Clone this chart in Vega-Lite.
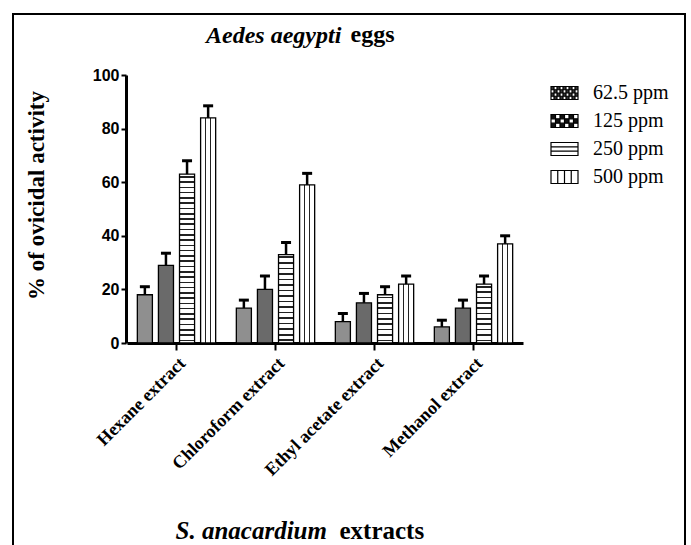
{
"$schema": "https://vega.github.io/schema/vega-lite/v6.json",
"width": 672,
"height": 534,
"autosize": {"type": "none"},
"padding": {"left": 13, "top": 14, "right": 6, "bottom": -3},
"background": "white",
"title": {"text": "Aedes aegypti", "anchor": "start", "frame": "group", "orient": "top", "offset": 0, "dx": 193, "dy": 53, "baseline": "alphabetic", "font": "Liberation Serif", "fontSize": 24, "fontStyle": "italic", "fontWeight": "bold", "color": "black"},
"data": {"values": [
{"extract":"Hexane extract","conc":"62.5 ppm","mean":18,"upper":21},
{"extract":"Hexane extract","conc":"125 ppm","mean":29,"upper":33.5},
{"extract":"Hexane extract","conc":"250 ppm","mean":63,"upper":68},
{"extract":"Hexane extract","conc":"500 ppm","mean":84,"upper":88.5},
{"extract":"Chloroform extract","conc":"62.5 ppm","mean":13,"upper":16},
{"extract":"Chloroform extract","conc":"125 ppm","mean":20,"upper":25},
{"extract":"Chloroform extract","conc":"250 ppm","mean":33,"upper":37.5},
{"extract":"Chloroform extract","conc":"500 ppm","mean":59,"upper":63.3},
{"extract":"Ethyl acetate extract","conc":"62.5 ppm","mean":8,"upper":11},
{"extract":"Ethyl acetate extract","conc":"125 ppm","mean":15,"upper":18.5},
{"extract":"Ethyl acetate extract","conc":"250 ppm","mean":18,"upper":21},
{"extract":"Ethyl acetate extract","conc":"500 ppm","mean":22,"upper":25},
{"extract":"Methanol extract","conc":"62.5 ppm","mean":6,"upper":8.5},
{"extract":"Methanol extract","conc":"125 ppm","mean":13,"upper":16},
{"extract":"Methanol extract","conc":"250 ppm","mean":22,"upper":25},
{"extract":"Methanol extract","conc":"500 ppm","mean":37,"upper":40}
]},
"resolve": {"axis": {"x": "independent", "y": "independent"}, "legend": {"fill": "independent", "shape": "independent", "stroke": "independent"}},
"layer": [
{
"mark": {"type": "bar", "stroke": "black", "strokeWidth": 1.3},
"encoding": {
"x": {"field": "extract", "type": "nominal", "sort": null,
 "scale": {"range": [114, 510], "paddingInner": 0, "paddingOuter": 0},
 "axis": {"orient": "bottom", "offset": -205, "title": "S. anacardium", "titleFont": "Liberation Serif", "titleFontSize": 25, "titleFontStyle": "italic", "titleFontWeight": "bold", "titleColor": "black", "titleX": 162, "titleY": 195, "titleAlign": "left", "titleBaseline": "alphabetic", "titleAngle": 0,
  "labelAngle": -45, "labelFont": "Liberation Serif", "labelFontSize": 18, "labelFontWeight": "bold", "labelColor": "black", "labelPadding": 4, "labelLimit": 300,
  "tickSize": 7, "tickWidth": 2, "tickColor": "black", "domainColor": "black", "domainWidth": 3, "grid": false}},
"xOffset": {"field": "conc", "type": "nominal", "sort": null, "scale": {"paddingInner": 0.286, "paddingOuter": 0.49}},
"y": {"field": "mean", "type": "quantitative",
 "scale": {"domain": [0, 100], "range": [329, 61], "nice": false},
 "axis": {"orient": "left", "offset": -113, "values": [0, 20, 40, 60, 80, 100], "title": "% of ovicidal activity", "titleFont": "Liberation Serif", "titleFontSize": 23, "titleFontWeight": "bold", "titleColor": "black", "titleX": -83, "titleY": 181, "titleAngle": -90, "titleAlign": "center", "titleBaseline": "alphabetic",
  "labelFont": "Liberation Sans", "labelFontWeight": "bold", "labelFontSize": 16, "labelColor": "black", "labelPadding": 2,
  "tickSize": 5, "tickWidth": 2, "tickColor": "black", "domainColor": "black", "domainWidth": 3, "grid": false}},
"fill": {"field": "conc", "type": "nominal", "sort": null,
 "scale": {"domain": ["62.5 ppm", "125 ppm", "250 ppm", "500 ppm"], "range": ["#333333", "#111111", "#ffffff", "#ffffff"]},
 "legend": null,
 "condition": [
  {"test": "datum.conc === '62.5 ppm'", "value": "#8f8f8f"},
  {"test": "datum.conc === '125 ppm'", "value": "#6a6a6a"},
  {"test": "datum.conc === '500 ppm'", "value": {"gradient": "linear", "x1": 0, "y1": 0, "x2": 1, "y2": 0, "stops": [{"offset":0,"color":"#fff"},{"offset":0.29,"color":"#fff"},{"offset":0.29,"color":"#222"},{"offset":0.38,"color":"#222"},{"offset":0.38,"color":"#fff"},{"offset":0.62,"color":"#fff"},{"offset":0.62,"color":"#222"},{"offset":0.71,"color":"#222"},{"offset":0.71,"color":"#fff"},{"offset":1,"color":"#fff"}]}},
  {"test": "datum.conc === '250 ppm' && datum.extract === 'Hexane extract'", "value": {"gradient": "linear", "x1": 0, "y1": 0, "x2": 0, "y2": 1, "stops": [
   {"offset":0,"color":"#fff"},
   {"offset":0.01094,"color":"#fff"},{"offset":0.01094,"color":"#222"},{"offset":0.02031,"color":"#222"},{"offset":0.02031,"color":"#fff"},
   {"offset":0.04219,"color":"#fff"},{"offset":0.04219,"color":"#222"},{"offset":0.05156,"color":"#222"},{"offset":0.05156,"color":"#fff"},
   {"offset":0.07344,"color":"#fff"},{"offset":0.07344,"color":"#222"},{"offset":0.08281,"color":"#222"},{"offset":0.08281,"color":"#fff"},
   {"offset":0.10469,"color":"#fff"},{"offset":0.10469,"color":"#222"},{"offset":0.11406,"color":"#222"},{"offset":0.11406,"color":"#fff"},
   {"offset":0.13594,"color":"#fff"},{"offset":0.13594,"color":"#222"},{"offset":0.14531,"color":"#222"},{"offset":0.14531,"color":"#fff"},
   {"offset":0.16719,"color":"#fff"},{"offset":0.16719,"color":"#222"},{"offset":0.17656,"color":"#222"},{"offset":0.17656,"color":"#fff"},
   {"offset":0.19844,"color":"#fff"},{"offset":0.19844,"color":"#222"},{"offset":0.20781,"color":"#222"},{"offset":0.20781,"color":"#fff"},
   {"offset":0.22969,"color":"#fff"},{"offset":0.22969,"color":"#222"},{"offset":0.23906,"color":"#222"},{"offset":0.23906,"color":"#fff"},
   {"offset":0.26094,"color":"#fff"},{"offset":0.26094,"color":"#222"},{"offset":0.27031,"color":"#222"},{"offset":0.27031,"color":"#fff"},
   {"offset":0.29219,"color":"#fff"},{"offset":0.29219,"color":"#222"},{"offset":0.30156,"color":"#222"},{"offset":0.30156,"color":"#fff"},
   {"offset":0.32344,"color":"#fff"},{"offset":0.32344,"color":"#222"},{"offset":0.33281,"color":"#222"},{"offset":0.33281,"color":"#fff"},
   {"offset":0.35469,"color":"#fff"},{"offset":0.35469,"color":"#222"},{"offset":0.36406,"color":"#222"},{"offset":0.36406,"color":"#fff"},
   {"offset":0.38594,"color":"#fff"},{"offset":0.38594,"color":"#222"},{"offset":0.39531,"color":"#222"},{"offset":0.39531,"color":"#fff"},
   {"offset":0.41719,"color":"#fff"},{"offset":0.41719,"color":"#222"},{"offset":0.42656,"color":"#222"},{"offset":0.42656,"color":"#fff"},
   {"offset":0.44844,"color":"#fff"},{"offset":0.44844,"color":"#222"},{"offset":0.45781,"color":"#222"},{"offset":0.45781,"color":"#fff"},
   {"offset":0.47969,"color":"#fff"},{"offset":0.47969,"color":"#222"},{"offset":0.48906,"color":"#222"},{"offset":0.48906,"color":"#fff"},
   {"offset":0.51094,"color":"#fff"},{"offset":0.51094,"color":"#222"},{"offset":0.52031,"color":"#222"},{"offset":0.52031,"color":"#fff"},
   {"offset":0.54219,"color":"#fff"},{"offset":0.54219,"color":"#222"},{"offset":0.55156,"color":"#222"},{"offset":0.55156,"color":"#fff"},
   {"offset":0.57344,"color":"#fff"},{"offset":0.57344,"color":"#222"},{"offset":0.58281,"color":"#222"},{"offset":0.58281,"color":"#fff"},
   {"offset":0.60469,"color":"#fff"},{"offset":0.60469,"color":"#222"},{"offset":0.61406,"color":"#222"},{"offset":0.61406,"color":"#fff"},
   {"offset":0.63594,"color":"#fff"},{"offset":0.63594,"color":"#222"},{"offset":0.64531,"color":"#222"},{"offset":0.64531,"color":"#fff"},
   {"offset":0.66719,"color":"#fff"},{"offset":0.66719,"color":"#222"},{"offset":0.67656,"color":"#222"},{"offset":0.67656,"color":"#fff"},
   {"offset":0.69844,"color":"#fff"},{"offset":0.69844,"color":"#222"},{"offset":0.70781,"color":"#222"},{"offset":0.70781,"color":"#fff"},
   {"offset":0.72969,"color":"#fff"},{"offset":0.72969,"color":"#222"},{"offset":0.73906,"color":"#222"},{"offset":0.73906,"color":"#fff"},
   {"offset":0.76094,"color":"#fff"},{"offset":0.76094,"color":"#222"},{"offset":0.77031,"color":"#222"},{"offset":0.77031,"color":"#fff"},
   {"offset":0.79219,"color":"#fff"},{"offset":0.79219,"color":"#222"},{"offset":0.80156,"color":"#222"},{"offset":0.80156,"color":"#fff"},
   {"offset":0.82344,"color":"#fff"},{"offset":0.82344,"color":"#222"},{"offset":0.83281,"color":"#222"},{"offset":0.83281,"color":"#fff"},
   {"offset":0.85469,"color":"#fff"},{"offset":0.85469,"color":"#222"},{"offset":0.86406,"color":"#222"},{"offset":0.86406,"color":"#fff"},
   {"offset":0.88594,"color":"#fff"},{"offset":0.88594,"color":"#222"},{"offset":0.89531,"color":"#222"},{"offset":0.89531,"color":"#fff"},
   {"offset":0.91719,"color":"#fff"},{"offset":0.91719,"color":"#222"},{"offset":0.92656,"color":"#222"},{"offset":0.92656,"color":"#fff"},
   {"offset":0.94844,"color":"#fff"},{"offset":0.94844,"color":"#222"},{"offset":0.95781,"color":"#222"},{"offset":0.95781,"color":"#fff"},
   {"offset":0.97969,"color":"#fff"},{"offset":0.97969,"color":"#222"},{"offset":0.98906,"color":"#222"},{"offset":0.98906,"color":"#fff"},
   {"offset":1,"color":"#fff"}]}},
  {"test": "datum.conc === '250 ppm' && datum.extract === 'Chloroform extract'", "value": {"gradient": "linear", "x1": 0, "y1": 0, "x2": 0, "y2": 1, "stops": [
   {"offset":0,"color":"#fff"},
   {"offset":0.02188,"color":"#fff"},{"offset":0.02188,"color":"#222"},{"offset":0.04063,"color":"#222"},{"offset":0.04063,"color":"#fff"},
   {"offset":0.08438,"color":"#fff"},{"offset":0.08438,"color":"#222"},{"offset":0.10313,"color":"#222"},{"offset":0.10313,"color":"#fff"},
   {"offset":0.14688,"color":"#fff"},{"offset":0.14688,"color":"#222"},{"offset":0.16563,"color":"#222"},{"offset":0.16563,"color":"#fff"},
   {"offset":0.20938,"color":"#fff"},{"offset":0.20938,"color":"#222"},{"offset":0.22813,"color":"#222"},{"offset":0.22813,"color":"#fff"},
   {"offset":0.27188,"color":"#fff"},{"offset":0.27188,"color":"#222"},{"offset":0.29063,"color":"#222"},{"offset":0.29063,"color":"#fff"},
   {"offset":0.33438,"color":"#fff"},{"offset":0.33438,"color":"#222"},{"offset":0.35313,"color":"#222"},{"offset":0.35313,"color":"#fff"},
   {"offset":0.39688,"color":"#fff"},{"offset":0.39688,"color":"#222"},{"offset":0.41563,"color":"#222"},{"offset":0.41563,"color":"#fff"},
   {"offset":0.45938,"color":"#fff"},{"offset":0.45938,"color":"#222"},{"offset":0.47813,"color":"#222"},{"offset":0.47813,"color":"#fff"},
   {"offset":0.52188,"color":"#fff"},{"offset":0.52188,"color":"#222"},{"offset":0.54063,"color":"#222"},{"offset":0.54063,"color":"#fff"},
   {"offset":0.58438,"color":"#fff"},{"offset":0.58438,"color":"#222"},{"offset":0.60313,"color":"#222"},{"offset":0.60313,"color":"#fff"},
   {"offset":0.64688,"color":"#fff"},{"offset":0.64688,"color":"#222"},{"offset":0.66563,"color":"#222"},{"offset":0.66563,"color":"#fff"},
   {"offset":0.70938,"color":"#fff"},{"offset":0.70938,"color":"#222"},{"offset":0.72813,"color":"#222"},{"offset":0.72813,"color":"#fff"},
   {"offset":0.77188,"color":"#fff"},{"offset":0.77188,"color":"#222"},{"offset":0.79063,"color":"#222"},{"offset":0.79063,"color":"#fff"},
   {"offset":0.83438,"color":"#fff"},{"offset":0.83438,"color":"#222"},{"offset":0.85313,"color":"#222"},{"offset":0.85313,"color":"#fff"},
   {"offset":0.89688,"color":"#fff"},{"offset":0.89688,"color":"#222"},{"offset":0.91563,"color":"#222"},{"offset":0.91563,"color":"#fff"},
   {"offset":0.95938,"color":"#fff"},{"offset":0.95938,"color":"#222"},{"offset":0.97813,"color":"#222"},{"offset":0.97813,"color":"#fff"},
   {"offset":1,"color":"#fff"}]}},
  {"test": "datum.conc === '250 ppm' && datum.extract === 'Ethyl acetate extract'", "value": {"gradient": "linear", "x1": 0, "y1": 0, "x2": 0, "y2": 1, "stops": [
   {"offset":0,"color":"#fff"},
   {"offset":0.03889,"color":"#fff"},{"offset":0.03889,"color":"#222"},{"offset":0.07222,"color":"#222"},{"offset":0.07222,"color":"#fff"},
   {"offset":0.15,"color":"#fff"},{"offset":0.15,"color":"#222"},{"offset":0.18333,"color":"#222"},{"offset":0.18333,"color":"#fff"},
   {"offset":0.26111,"color":"#fff"},{"offset":0.26111,"color":"#222"},{"offset":0.29444,"color":"#222"},{"offset":0.29444,"color":"#fff"},
   {"offset":0.37222,"color":"#fff"},{"offset":0.37222,"color":"#222"},{"offset":0.40556,"color":"#222"},{"offset":0.40556,"color":"#fff"},
   {"offset":0.48333,"color":"#fff"},{"offset":0.48333,"color":"#222"},{"offset":0.51667,"color":"#222"},{"offset":0.51667,"color":"#fff"},
   {"offset":0.59444,"color":"#fff"},{"offset":0.59444,"color":"#222"},{"offset":0.62778,"color":"#222"},{"offset":0.62778,"color":"#fff"},
   {"offset":0.70556,"color":"#fff"},{"offset":0.70556,"color":"#222"},{"offset":0.73889,"color":"#222"},{"offset":0.73889,"color":"#fff"},
   {"offset":0.81667,"color":"#fff"},{"offset":0.81667,"color":"#222"},{"offset":0.85,"color":"#222"},{"offset":0.85,"color":"#fff"},
   {"offset":0.92778,"color":"#fff"},{"offset":0.92778,"color":"#222"},{"offset":0.96111,"color":"#222"},{"offset":0.96111,"color":"#fff"},
   {"offset":1,"color":"#fff"}]}},
  {"test": "datum.conc === '250 ppm' && datum.extract === 'Methanol extract'", "value": {"gradient": "linear", "x1": 0, "y1": 0, "x2": 0, "y2": 1, "stops": [
   {"offset":0,"color":"#fff"},
   {"offset":0.03182,"color":"#fff"},{"offset":0.03182,"color":"#222"},{"offset":0.05909,"color":"#222"},{"offset":0.05909,"color":"#fff"},
   {"offset":0.12273,"color":"#fff"},{"offset":0.12273,"color":"#222"},{"offset":0.15,"color":"#222"},{"offset":0.15,"color":"#fff"},
   {"offset":0.21364,"color":"#fff"},{"offset":0.21364,"color":"#222"},{"offset":0.24091,"color":"#222"},{"offset":0.24091,"color":"#fff"},
   {"offset":0.30455,"color":"#fff"},{"offset":0.30455,"color":"#222"},{"offset":0.33182,"color":"#222"},{"offset":0.33182,"color":"#fff"},
   {"offset":0.39545,"color":"#fff"},{"offset":0.39545,"color":"#222"},{"offset":0.42273,"color":"#222"},{"offset":0.42273,"color":"#fff"},
   {"offset":0.48636,"color":"#fff"},{"offset":0.48636,"color":"#222"},{"offset":0.51364,"color":"#222"},{"offset":0.51364,"color":"#fff"},
   {"offset":0.57727,"color":"#fff"},{"offset":0.57727,"color":"#222"},{"offset":0.60455,"color":"#222"},{"offset":0.60455,"color":"#fff"},
   {"offset":0.66818,"color":"#fff"},{"offset":0.66818,"color":"#222"},{"offset":0.69545,"color":"#222"},{"offset":0.69545,"color":"#fff"},
   {"offset":0.75909,"color":"#fff"},{"offset":0.75909,"color":"#222"},{"offset":0.78636,"color":"#222"},{"offset":0.78636,"color":"#fff"},
   {"offset":0.85,"color":"#fff"},{"offset":0.85,"color":"#222"},{"offset":0.87727,"color":"#222"},{"offset":0.87727,"color":"#fff"},
   {"offset":0.94091,"color":"#fff"},{"offset":0.94091,"color":"#222"},{"offset":0.96818,"color":"#222"},{"offset":0.96818,"color":"#fff"},
   {"offset":1,"color":"#fff"}]}}
 ]}
}
},
{
"mark": {"type": "point", "filled": true, "size": 0, "strokeWidth": 1.2},
"encoding": {
"x": {"field": "extract", "type": "nominal", "sort": null, "axis": null},
"xOffset": {"field": "conc", "type": "nominal", "sort": null},
"y": {"field": "mean", "type": "quantitative", "axis": null},
"fill": {"field": "conc", "type": "nominal", "sort": null,
 "legend": {"orient": "none", "legendX": 537, "legendY": 64.5, "title": null, "padding": 0, "symbolSize": 729, "symbolStrokeWidth": 1.2, "symbolOpacity": 1, "labelFont": "Liberation Serif", "labelFontSize": 20, "labelColor": "black", "labelOffset": 14, "rowPadding": 3, "labelLimit": 200}},
"stroke": {"field": "conc", "type": "nominal", "sort": null,
 "scale": {"domain": ["62.5 ppm", "125 ppm", "250 ppm", "500 ppm"], "range": ["#000000", "#000000", "#000000", "#000000"]},
 "legend": {"orient": "none", "legendX": 537, "legendY": 64.5, "title": null, "padding": 0, "symbolSize": 729, "symbolStrokeWidth": 1.2, "symbolOpacity": 1, "labelFont": "Liberation Serif", "labelFontSize": 20, "labelColor": "black", "labelOffset": 14, "rowPadding": 3, "labelLimit": 200}},
"shape": {"field": "conc", "type": "nominal", "sort": null,
 "scale": {"domain": ["62.5 ppm", "125 ppm", "250 ppm", "500 ppm"], "range": [
  "M-1,-0.48H1V0.48H-1Z M-0.778,-0.48V-0.24H-0.556V-0.48Z M-0.333,-0.48V-0.24H-0.111V-0.48Z M0.111,-0.48V-0.24H0.333V-0.48Z M0.556,-0.48V-0.24H0.778V-0.48Z M-1,-0.24V0H-0.778V-0.24Z M-0.556,-0.24V0H-0.333V-0.24Z M-0.111,-0.24V0H0.111V-0.24Z M0.333,-0.24V0H0.556V-0.24Z M0.778,-0.24V0H1V-0.24Z M-0.778,0V0.24H-0.556V0Z M-0.333,0V0.24H-0.111V0Z M0.111,0V0.24H0.333V0Z M0.556,0V0.24H0.778V0Z M-1,0.24V0.48H-0.778V0.24Z M-0.556,0.24V0.48H-0.333V0.24Z M-0.111,0.24V0.48H0.111V0.24Z M0.333,0.24V0.48H0.556V0.24Z M0.778,0.24V0.48H1V0.24Z",
  "M-1,-0.48H1V0.48H-1Z M-0.667,-0.48V-0.16H-0.333V-0.48Z M0,-0.48V-0.16H0.333V-0.48Z M0.667,-0.48V-0.16H1V-0.48Z M-1,-0.16V0.16H-0.667V-0.16Z M-0.333,-0.16V0.16H0V-0.16Z M0.333,-0.16V0.16H0.667V-0.16Z M-0.667,0.16V0.48H-0.333V0.16Z M0,0.16V0.48H0.333V0.16Z M0.667,0.16V0.48H1V0.16Z",
  "M-1,-0.48H1V0.48H-1Z M-1,-0.16H1 M-1,0.16H1",
  "M-1,-0.48H1V0.48H-1Z M-0.5,-0.48V0.48 M0,-0.48V0.48 M0.5,-0.48V0.48"]},
 "legend": {"orient": "none", "legendX": 537, "legendY": 64.5, "title": null, "padding": 0, "symbolSize": 729, "symbolStrokeWidth": 1.2, "symbolOpacity": 1, "labelFont": "Liberation Serif", "labelFontSize": 20, "labelColor": "black", "labelOffset": 14, "rowPadding": 3, "labelLimit": 200}}
}
},
{
"mark": {"type": "rule", "strokeWidth": 2.5, "color": "black"},
"encoding": {
"x": {"field": "extract", "type": "nominal", "sort": null,
 "axis": {"orient": "top", "offset": 0, "domain": false, "ticks": false, "labels": false, "grid": false, "title": "eggs", "titleFont": "Liberation Serif", "titleFontSize": 24, "titleFontWeight": "bold", "titleColor": "black", "titleX": 337, "titleY": 27, "titleAlign": "left", "titleBaseline": "alphabetic", "titleAngle": 0}},
"xOffset": {"field": "conc", "type": "nominal", "sort": null},
"y": {"field": "mean", "type": "quantitative",
 "axis": {"orient": "right", "offset": 0, "domain": false, "ticks": false, "labels": false, "grid": false, "title": "extracts", "titleFont": "Liberation Serif", "titleFontSize": 25, "titleFontWeight": "bold", "titleColor": "black", "titleX": -346, "titleY": 524, "titleAlign": "left", "titleBaseline": "alphabetic", "titleAngle": 0}},
"y2": {"field": "upper"}
}
},
{
"mark": {"type": "tick", "color": "black", "thickness": 3, "size": 10, "opacity": 1},
"encoding": {
"x": {"field": "extract", "type": "nominal", "sort": null, "axis": null},
"xOffset": {"field": "conc", "type": "nominal", "sort": null},
"y": {"field": "upper", "type": "quantitative", "axis": null}
}
}
],
"config": {
"font": "Liberation Serif",
"view": {"stroke": "black", "strokeWidth": 2},
"axis": {"grid": false}
}
}
